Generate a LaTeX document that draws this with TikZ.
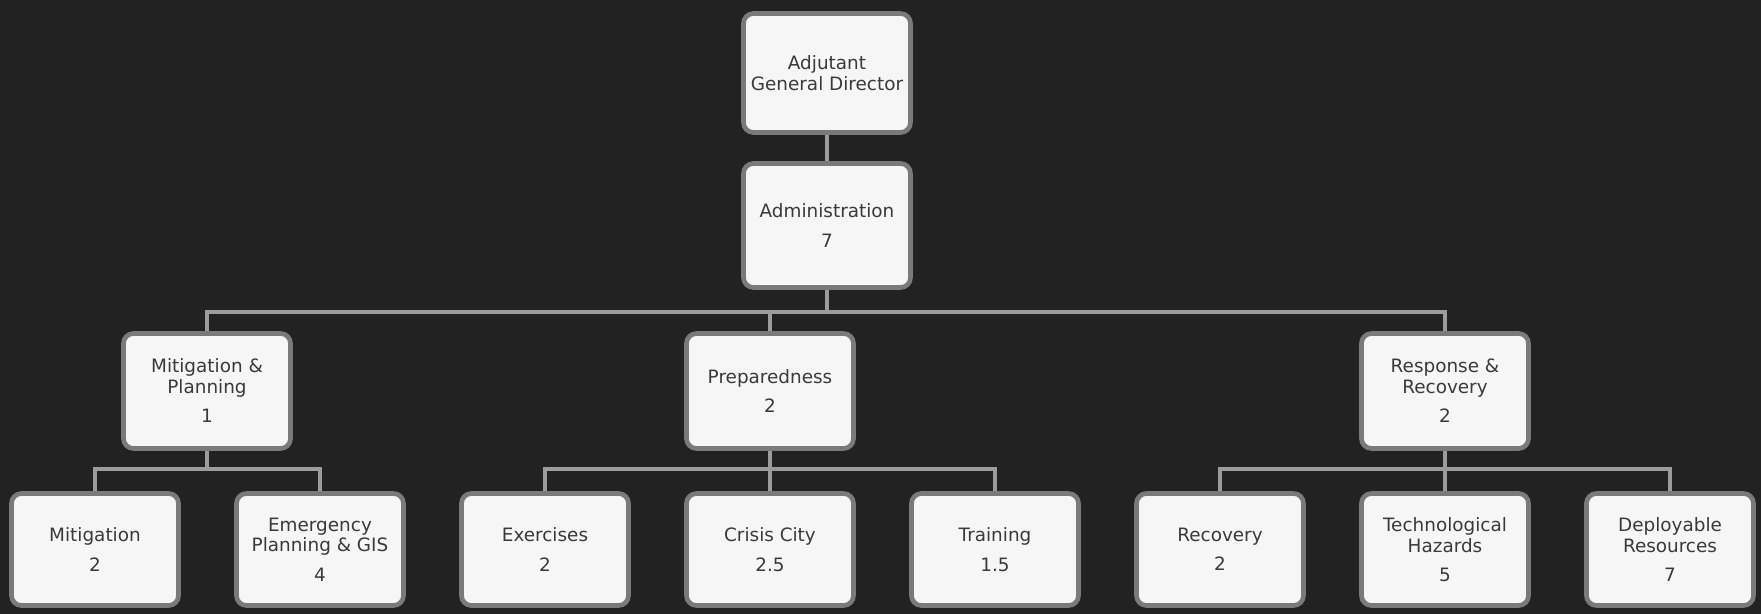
\documentclass[tikz,border=0pt]{standalone}
\usepackage{fontspec}
\setmainfont{DejaVu Sans}
\definecolor{bg}{HTML}{222222}
\definecolor{framegray}{HTML}{7A7A7A}
\definecolor{boxfill}{HTML}{F6F6F6}
\definecolor{txt}{HTML}{3A3A3A}
\definecolor{linegray}{HTML}{9C9C9C}
\begin{document}
\begin{tikzpicture}[x=0.75pt,y=-0.75pt,
  box/.style={draw=framegray, line width=3.5pt, fill=boxfill, rounded corners=7.5pt,
    minimum width=167*0.75pt, align=center, text=txt, inner sep=0pt,
    font=\fontsize{13.8pt}{15.5pt}\selectfont},
  topbox/.style={box, minimum height=119*0.75pt},
  adminbox/.style={box, minimum height=124*0.75pt},
  midbox/.style={box, minimum height=115*0.75pt},
  lowbox/.style={box, minimum height=112*0.75pt},
  conn/.style={draw=linegray, line width=3pt}]
\fill[bg] (0,0) rectangle (1761,614);
\useasboundingbox (0,0) rectangle (1761,614);

\coordinate (bus1) at (827,312);
\coordinate (busA) at (207,469);
\coordinate (busB) at (770,469);
\coordinate (busC) at (1445,469);

\node[topbox] (agd) at (827,73) {Adjutant\\General Director};
\node[adminbox] (adm) at (827,225.5) {Administration\\[6.5pt]7};
\node[midbox] (mp) at (207,391) {Mitigation \&\\Planning\\[6.5pt]1};
\node[midbox] (prep) at (770,391) {Preparedness\\[6.5pt]2};
\node[midbox] (rr) at (1445,391) {Response \&\\Recovery\\[6.5pt]2};
\node[lowbox] (mit) at (95,549.5) {Mitigation\\[6.5pt]2};
\node[lowbox] (epg) at (320,549.5) {Emergency\\Planning \& GIS\\[6.5pt]4};
\node[lowbox] (exe) at (545,549.5) {Exercises\\[6.5pt]2};
\node[lowbox] (cc) at (770,549.5) {Crisis City\\[6.5pt]2.5};
\node[lowbox] (trn) at (995,549.5) {Training\\[6.5pt]1.5};
\node[lowbox] (rec) at (1220,549.5) {Recovery\\[6.5pt]2};
\node[lowbox] (tech) at (1445,549.5) {Technological\\Hazards\\[6.5pt]5};
\node[lowbox] (dep) at (1670,549.5) {Deployable\\Resources\\[6.5pt]7};

\draw[conn] (agd.south) -- (adm.north);
\draw[conn] (adm.south) -- (adm.south |- bus1);
\draw[conn] (mp.north) -- (mp.north |- bus1) -- (rr.north |- bus1) -- (rr.north);
\draw[conn] (prep.north) -- (prep.north |- bus1);

\draw[conn] (mp.south) -- (mp.south |- busA);
\draw[conn] (mit.north) -- (mit.north |- busA) -- (epg.north |- busA) -- (epg.north);

\draw[conn] (prep.south) -- (prep.south |- busB);
\draw[conn] (exe.north) -- (exe.north |- busB) -- (trn.north |- busB) -- (trn.north);
\draw[conn] (cc.north) -- (cc.north |- busB);

\draw[conn] (rr.south) -- (rr.south |- busC);
\draw[conn] (rec.north) -- (rec.north |- busC) -- (dep.north |- busC) -- (dep.north);
\draw[conn] (tech.north) -- (tech.north |- busC);
\end{tikzpicture}
\end{document}
